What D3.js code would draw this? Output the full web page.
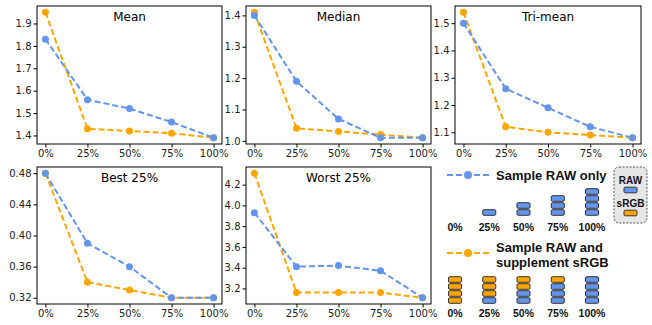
<!DOCTYPE html>
<html>
<head>
<meta charset="utf-8">
<script src="https://cdn.jsdelivr.net/npm/d3@7"></script>
<style>
  body { margin: 0; background: #fff; }
  svg text { font-family: "DejaVu Sans", sans-serif; }
  .tick text { font-size: 10px; fill: #222; }
  .lg { font-family: "Liberation Sans", Arial, sans-serif !important; font-weight: bold; fill: #111; }
</style>
</head>
<body>
<div id="chart"></div>
<script>
const categories = ['0%', '25%', '50%', '75%', '100%'];

const meanRaw = [1.83, 1.56, 1.52, 1.46, 1.39];
const meanMix = [1.95, 1.43, 1.42, 1.41, 1.39];
const medianRaw = [1.40, 1.19, 1.07, 1.01, 1.01];
const medianMix = [1.41, 1.04, 1.03, 1.02, 1.01];
const trimeanRaw = [1.50, 1.26, 1.19, 1.12, 1.08];
const trimeanMix = [1.54, 1.12, 1.10, 1.09, 1.08];
const bestRaw = [0.48, 0.39, 0.36, 0.32, 0.32];
const bestMix = [0.48, 0.34, 0.33, 0.32, 0.32];
const worstRaw = [3.93, 3.41, 3.42, 3.37, 3.11];
const worstMix = [4.31, 3.16, 3.16, 3.16, 3.11];

const meanTicks = [1.4, 1.5, 1.6, 1.7, 1.8, 1.9];
const medianTicks = [1.0, 1.1, 1.2, 1.3, 1.4];
const trimeanTicks = [1.1, 1.2, 1.3, 1.4, 1.5];
const bestTicks = [0.32, 0.36, 0.40, 0.44, 0.48];
const worstTicks = [3.2, 3.4, 3.6, 3.8, 4.0, 4.2];

// legend icons: number of RAW (blue) and sRGB (orange) blocks per share
const rawOnlyBlocks = [0, 1, 2, 3, 4];
const mixRawBlocks = [0, 1, 2, 3, 4];
const mixSrgbBlocks = [4, 3, 2, 1, 0];

const blue = '#6495ED', orange = '#FFA500';

const svg = d3.select('#chart').append('svg')
  .attr('width', 652)
  .attr('height', 325);

const panels = [
  {title: 'Mean', raw: meanRaw, mix: meanMix, ticks: meanTicks, fmt: '.1f', x0: 37, x1: 222, y0: 6, y1: 144},
  {title: 'Median', raw: medianRaw, mix: medianMix, ticks: medianTicks, fmt: '.1f', x0: 246, x1: 431, y0: 6, y1: 144},
  {title: 'Tri-mean', raw: trimeanRaw, mix: trimeanMix, ticks: trimeanTicks, fmt: '.1f', x0: 455, x1: 641, y0: 6, y1: 144},
  {title: 'Best 25%', raw: bestRaw, mix: bestMix, ticks: bestTicks, fmt: '.2f', x0: 37, x1: 222, y0: 167, y1: 304},
  {title: 'Worst 25%', raw: worstRaw, mix: worstMix, ticks: worstTicks, fmt: '.1f', x0: 246, x1: 431, y0: 167, y1: 304}
];

panels.forEach(function(p) {
  const all = p.raw.concat(p.mix);
  const lo = d3.min(all), hi = d3.max(all), pad = (hi - lo) * 0.05;

  const x = d3.scaleLinear().domain([-0.2, 4.2]).range([p.x0, p.x1]);
  const y = d3.scaleLinear().domain([lo - pad, hi + pad]).range([p.y1, p.y0]);

  const g = svg.append('g');

  g.append('g')
    .attr('transform', 'translate(0,' + p.y1 + ')')
    .call(d3.axisBottom(x).tickValues([0, 1, 2, 3, 4]).tickFormat(function(i) { return categories[i]; }).tickSize(3.5).tickPadding(2))
    .call(function(a) { a.select('.domain').remove(); });

  g.append('g')
    .attr('transform', 'translate(' + p.x0 + ',0)')
    .call(d3.axisLeft(y).tickValues(p.ticks).tickFormat(d3.format(p.fmt)).tickSize(3.5).tickPadding(2))
    .call(function(a) { a.select('.domain').remove(); });

  g.append('rect')
    .attr('x', p.x0).attr('y', p.y0)
    .attr('width', p.x1 - p.x0).attr('height', p.y1 - p.y0)
    .attr('fill', 'none').attr('stroke', '#000').attr('stroke-width', 1);

  g.append('text')
    .attr('x', (p.x0 + p.x1) / 2).attr('y', p.y0 + 15)
    .attr('text-anchor', 'middle')
    .style('font-size', '12px')
    .text(p.title);

  const line = d3.line().x(function(d, i) { return x(i); }).y(function(d) { return y(d); });

  [[p.mix, orange], [p.raw, blue]].forEach(function(s) {
    g.append('path')
      .datum(s[0])
      .attr('d', line)
      .attr('fill', 'none')
      .attr('stroke', s[1])
      .attr('stroke-width', 2)
      .attr('stroke-dasharray', '6,3');
    g.selectAll(null)
      .data(s[0])
      .enter()
      .append('circle')
      .attr('cx', function(d, i) { return x(i); })
      .attr('cy', function(d) { return y(d); })
      .attr('r', 3.5)
      .attr('fill', s[1]);
  });
});

// legend
const lgX = d3.scalePoint().domain(categories).range([455, 592]);

function legendLine(yy, color) {
  svg.append('line')
    .attr('x1', 447).attr('x2', 489).attr('y1', yy).attr('y2', yy)
    .attr('stroke', color).attr('stroke-width', 2).attr('stroke-dasharray', '6,3');
  svg.append('circle').attr('cx', 468).attr('cy', yy).attr('r', 4).attr('fill', color);
}

function block(cx, cy, color) {
  svg.append('rect')
    .attr('x', cx - 6.5).attr('y', cy - 2.8)
    .attr('width', 13).attr('height', 5.6)
    .attr('rx', 1.2)
    .attr('fill', color)
    .attr('stroke', '#333').attr('stroke-width', 1);
}

function stacks(bottomY, labelY, rawCounts, srgbCounts) {
  categories.forEach(function(c, i) {
    const cx = lgX(c);
    let k = 0;
    for (let j = 0; j < rawCounts[i]; j++, k++) block(cx, bottomY - k * 7, blue);
    for (let j = 0; j < srgbCounts[i]; j++, k++) block(cx, bottomY - k * 7, orange);
    svg.append('text').attr('class', 'lg')
      .attr('x', cx).attr('y', labelY)
      .attr('text-anchor', 'middle')
      .style('font-size', '10.5px')
      .text(c);
  });
}

legendLine(175, blue);
svg.append('text').attr('class', 'lg').attr('x', 496).attr('y', 180).style('font-size', '13px').text('Sample RAW only');
stacks(212.5, 231, rawOnlyBlocks, [0, 0, 0, 0, 0]);

legendLine(253, orange);
svg.append('text').attr('class', 'lg').attr('x', 496).attr('y', 252).style('font-size', '13px').text('Sample RAW and');
svg.append('text').attr('class', 'lg').attr('x', 496).attr('y', 267).style('font-size', '13px').text('supplement sRGB');
stacks(300.5, 317, mixRawBlocks, mixSrgbBlocks);

// RAW / sRGB key box
svg.append('rect')
  .attr('x', 614).attr('y', 167).attr('width', 33).attr('height', 56)
  .attr('rx', 5)
  .attr('fill', '#e6e6e6')
  .attr('stroke', '#555').attr('stroke-width', 1).attr('stroke-dasharray', '2,1.5');
svg.append('text').attr('class', 'lg').attr('x', 630.5).attr('y', 184).attr('text-anchor', 'middle').style('font-size', '10px').text('RAW');
block(630.5, 190, blue);
svg.append('text').attr('class', 'lg').attr('x', 630.5).attr('y', 207).attr('text-anchor', 'middle').style('font-size', '10px').text('sRGB');
block(630.5, 213, orange);
</script>
</body>
</html>
